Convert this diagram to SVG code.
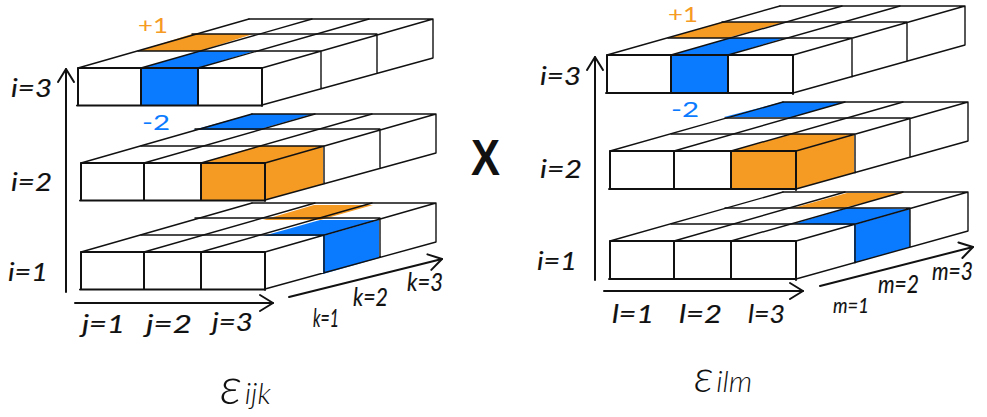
<svg xmlns="http://www.w3.org/2000/svg" width="987" height="417" viewBox="0 0 987 417">
<style>
text{font-family:"Lato","Liberation Sans",sans-serif;font-style:italic;fill:#111}
.lab{font-size:25px;stroke:#111;stroke-width:.15}
.sm{font-size:22px;stroke:#111;stroke-width:.15}
.eps{font-weight:300}
.o{fill:#F59A23}
.b{fill:#0A7BFF}
.to{font-size:21px;font-style:normal}
.f{fill:none;stroke:#111;stroke-width:2;stroke-linecap:round}
.m{fill:none;stroke:#111;stroke-width:1.4;stroke-linecap:round}
.ax{fill:none;stroke:#111;stroke-width:2;stroke-linecap:round}
</style>
<defs>
<marker id="head" markerUnits="userSpaceOnUse" markerWidth="20" markerHeight="22" refX="15" refY="10" orient="auto">
<path d="M2 2L15 10L2 18" fill="none" stroke="#111" stroke-width="2" stroke-linecap="round" stroke-linejoin="round"/>
</marker>
<g id="layerL">
<path class="f" d="M77 105.500H262M78 68H262M78 68V105M141 68V105M198 68V105M262 68V106"/>
<path class="m" d="M262 105L433 58M321 52V89M377 34V73M433 19V58M262 68L433 19M138 51H321M192 34H377M249 19H433"/>
<path class="m" d="M78 68L249 19M141 68L312 19M198 68L369 19"/>
</g>
<g id="layerR">
<path class="f" d="M606 93H793M607 55H793M607 55V93M671 55V93M728 55V93M793 55V94"/>
<path class="m" d="M793 93L965 45M852 38V77M907 23V61M965 6V45M793 55L965 6M668 38H852M722 22H907M780 6H965"/>
<path class="m" d="M607 55L780 6M671 55L842 6M728 55L900 6"/>
</g>
</defs>
<g id="left-i3">
<polygon class="o" points="138,51 192,34 253,34 200,51"/>
<polygon class="b" points="141,68 200,51 255,51 198,68"/>
<rect class="b" x="141" y="68" width="57" height="37"/>
<use href="#layerL"/>
<text class="to o" x="138" y="33" textLength="30" lengthAdjust="spacingAndGlyphs">+1</text>
<text class="lab" x="11" y="97" textLength="41" lengthAdjust="spacingAndGlyphs">i=3</text>
</g>
<g id="left-i2">
<polygon class="b" points="193,130 252,114 313,114 257,130"/>
<polygon class="o" points="201,163 258,146 323,146 265,163"/>
<rect class="o" x="201" y="163" width="64" height="37"/>
<polygon class="o" points="265,163 323,146 323,184 265,200"/>
<use href="#layerL" x="3" y="95"/>
<text class="to b" x="142" y="130" textLength="28" lengthAdjust="spacingAndGlyphs">-2</text>
<text class="lab" x="11" y="191" textLength="41" lengthAdjust="spacingAndGlyphs">i=2</text>
</g>
<g id="left-i1">
<polygon class="o" points="263,220 314,205 373,205 320,220"/>
<polygon class="b" points="263,236 320,220 379,220 323,236"/>
<polygon class="b" points="323,236 379,220 379,258 323,274"/>
<use href="#layerL" x="3" y="184"/>
<text class="lab" x="8" y="281" textLength="40" lengthAdjust="spacingAndGlyphs">i=1</text>
</g>
<g id="left-labels">
<text class="lab" x="82" y="333" textLength="43" lengthAdjust="spacingAndGlyphs">j=1</text>
<text class="lab" x="146" y="333" textLength="46" lengthAdjust="spacingAndGlyphs">j=2</text>
<text class="lab" x="212" y="331" textLength="41" lengthAdjust="spacingAndGlyphs">j=3</text>
<text class="lab" x="313" y="327" textLength="26" lengthAdjust="spacingAndGlyphs">k=1</text>
<text class="lab" x="353" y="306" textLength="35" lengthAdjust="spacingAndGlyphs">k=2</text>
<text class="lab" x="407" y="291" textLength="36" lengthAdjust="spacingAndGlyphs">k=3</text>
<text class="eps" x="220" y="404" font-size="52">ε<tspan font-size="30" dx="3">ijk</tspan></text>
</g>
<text id="times" x="471" y="175" font-size="50" style="font-family:'Liberation Sans',sans-serif;font-style:normal;font-weight:700" textLength="29" lengthAdjust="spacingAndGlyphs">X</text>
<g id="right-i3">
<polygon class="o" points="668,38 722,22 785,22 727,38"/>
<polygon class="b" points="671,55 730,38 785,38 728,55"/>
<rect class="b" x="671" y="55" width="57" height="38"/>
<use href="#layerR"/>
<text class="to o" x="668" y="22" textLength="30" lengthAdjust="spacingAndGlyphs">+1</text>
<text class="lab" x="540" y="85" textLength="41" lengthAdjust="spacingAndGlyphs">i=3</text>
</g>
<g id="right-i2">
<polygon class="b" points="724,117 782,102 845,102 793,117"/>
<polygon class="o" points="730,151 792,134 854,134 795,151"/>
<rect class="o" x="730" y="151" width="65" height="38"/>
<polygon class="o" points="795,151 854,134 854,173 795,189"/>
<use href="#layerR" x="3" y="96"/>
<text class="to b" x="671" y="117" textLength="28" lengthAdjust="spacingAndGlyphs">-2</text>
<text class="lab" x="540" y="178" textLength="42" lengthAdjust="spacingAndGlyphs">i=2</text>
</g>
<g id="right-i1">
<polygon class="o" points="793,208 847,193 903,193 843,208"/>
<polygon class="b" points="793,224 848,208 910,209 854,225"/>
<polygon class="b" points="854,225 910,209 910,247 854,263"/>
<use href="#layerR" x="3" y="186"/>
<text class="lab" x="537" y="270" textLength="40" lengthAdjust="spacingAndGlyphs">i=1</text>
</g>
<g id="right-labels">
<text class="lab" x="612" y="323" textLength="42" lengthAdjust="spacingAndGlyphs">l=1</text>
<text class="lab" x="679" y="323" textLength="43" lengthAdjust="spacingAndGlyphs">l=2</text>
<text class="lab" x="748" y="323" textLength="37" lengthAdjust="spacingAndGlyphs">l=3</text>
<text class="sm" x="833" y="313" textLength="36" lengthAdjust="spacingAndGlyphs">m=1</text>
<text class="lab" x="878" y="293" textLength="41" lengthAdjust="spacingAndGlyphs">m=2</text>
<text class="lab" x="932" y="280" textLength="41" lengthAdjust="spacingAndGlyphs">m=3</text>
<text class="eps" x="694" y="392" font-size="46">ε<tspan font-size="30" dx="3">ilm</tspan></text>
</g>
<g id="connectors">
<path class="ax" marker-end="url(#head)" d="M66 292V69"/>
<path class="ax" marker-end="url(#head)" d="M75 303H273"/>
<path class="ax" marker-end="url(#head)" d="M289 297L442 259"/>
<path class="ax" marker-end="url(#head)" d="M595 280V57"/>
<path class="ax" marker-end="url(#head)" d="M604 291H803"/>
<path class="ax" marker-end="url(#head)" d="M820 286L973 247"/>
</g>
</svg>
